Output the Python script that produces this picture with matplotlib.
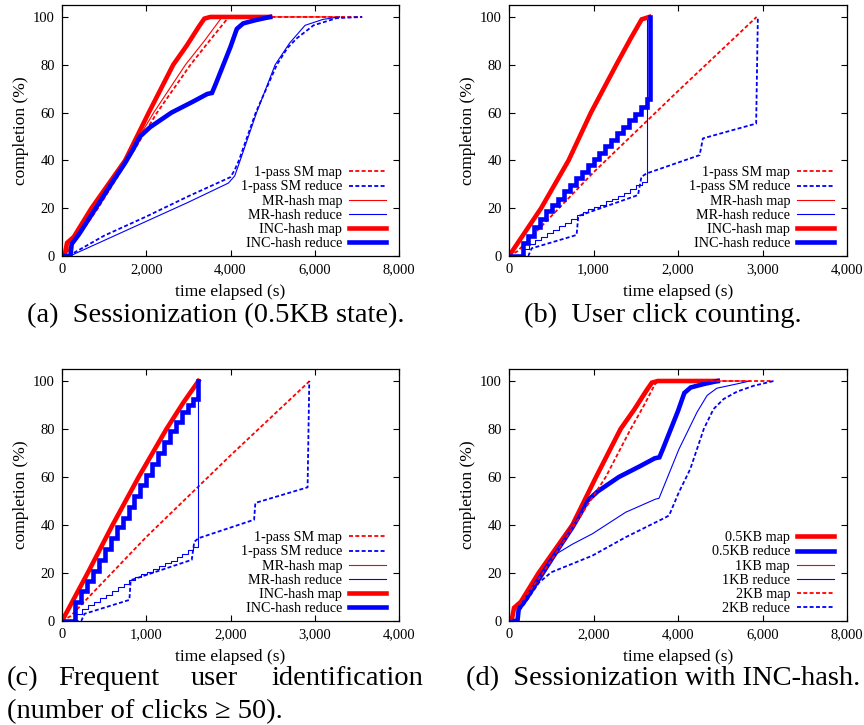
import matplotlib
matplotlib.use("Agg")
import matplotlib.pyplot as plt
from matplotlib.ticker import FuncFormatter

plt.rcParams['font.family'] = ['Liberation Serif', 'DejaVu Serif']

RED = '#ff0000'
BLUE = '#0000ff'

# ---------------- Panel (a): Sessionization (0.5KB state) ----------------
a_sm_map_x = [0, 100, 300, 855, 1560, 2257, 3049, 3500, 3960, 7126]
a_sm_map_y = [0, 1, 6, 20, 40, 60, 80, 90, 100, 100]
a_sm_red_x = [0, 150, 200, 1000, 2000, 3000, 4000, 4100, 4200, 4600, 5100, 5350, 5570, 5970, 6520, 7126]
a_sm_red_y = [0, 0, 0.5, 8.5, 16.5, 25, 33, 36, 40, 60, 80, 87, 91, 96.5, 99.5, 100]
a_mr_map_x = [0, 100, 300, 792, 1500, 2178, 2930, 3380, 3800, 6590]
a_mr_map_y = [0, 2, 7, 20, 40, 60, 80, 90, 100, 100]
a_mr_red_x = [0, 200, 250, 1000, 2000, 3000, 3950, 4100, 4230, 4620, 5060, 5400, 5770, 6200, 6590]
a_mr_red_y = [0, 0, 0.5, 6.5, 14.5, 22.5, 30.5, 33.5, 40, 60, 80, 89, 96.5, 99, 100]
a_inc_map_x = [0, 60, 120, 280, 700, 1500, 2060, 2640, 2960, 3250, 3380, 3520, 4940]
a_inc_map_y = [0, 0, 5.5, 8, 20, 40, 60, 80, 88, 96, 99.3, 100, 100]
a_inc_red_x = [0, 200, 230, 400, 800, 1200, 1500, 1700, 1850, 2100, 2600, 3100, 3450, 3560, 3650, 4000, 4150, 4300, 4600, 4940]
a_inc_red_y = [0, 0, 5, 9, 20, 31, 39, 45, 50, 54, 60, 64.5, 67.8, 68.2, 72, 87.5, 95, 97.3, 98.7, 100]

# ---------------- Panel (b): User click counting ----------------
b_sm_map_x = [0, 100, 1000, 2000, 2930]
b_sm_map_y = [0, 2, 35, 69, 100]
b_sm_red_x = [0, 228, 268, 800, 820, 1527, 1567, 1626, 2256, 2295, 2925, 2945]
b_sm_red_y = [0, 0, 3.2, 8.8, 16.7, 25.5, 33.1, 34.5, 42.2, 49.2, 55.4, 100]
b_mr_map_x = [0, 380, 705, 970, 1270, 1440, 1570, 1660]
b_mr_map_y = [0, 20, 40, 60, 80, 91, 99, 100]
b_mr_red_x = [0, 150, 170, 240, 310, 380, 450, 520, 590, 660, 730, 800, 870, 940, 1010, 1080,
              1150, 1220, 1290, 1360, 1430, 1500, 1570, 1630, 1630]
b_mr_red_y = [0, 0, 3, 5, 6.5, 8, 9.5, 11, 12.5, 14, 15.5, 17, 18.5, 19.5, 20.5, 21.5,
              23, 24, 25, 26.5, 28, 29.5, 31, 33, 100]
b_inc_map_x = [0, 380, 705, 970, 1270, 1440, 1570, 1660]
b_inc_map_y = [0, 20, 40, 60, 80, 91, 99, 100]
b_inc_red_x = [0, 160, 230, 300, 370, 440, 510, 580, 650, 720, 790, 860, 930, 1000, 1070,
               1140, 1210, 1280, 1350, 1420, 1490, 1560, 1630, 1665, 1672]
b_inc_red_y = [0, 5.5, 8.5, 12, 15.5, 19, 21.5, 24, 27, 29.5, 32.5, 35, 38, 40.5, 43,
               46, 48.5, 51.5, 54, 57, 59.5, 62.5, 65.5, 67, 100]

# ---------------- Panel (c): Frequent user identification ----------------
c_sm_map_x = [0, 100, 1000, 2000, 2940]
c_sm_map_y = [0, 2, 35, 69, 100]
c_sm_red_x = [0, 228, 268, 800, 815, 1540, 1570, 1620, 2280, 2295, 2915, 2935]
c_sm_red_y = [0, 0, 3.0, 8.8, 17, 25.5, 33, 34.5, 42.2, 49.2, 55.7, 100]
c_mr_map_x = [0, 305, 600, 910, 1240, 1440, 1620]
c_mr_map_y = [0, 20, 40, 60, 80, 91, 100]
c_mr_red_x = [0, 150, 170, 240, 310, 380, 450, 520, 590, 660, 730, 800, 870, 940, 1010, 1080,
              1150, 1220, 1290, 1360, 1430, 1500, 1560, 1614, 1614]
c_mr_red_y = [0, 0, 3, 5, 6.5, 8, 9.5, 11, 12.5, 14, 15.5, 17, 18.5, 19.5, 20.5, 21.5,
              23, 24, 25, 26.5, 28, 29.5, 31, 33.5, 100]
c_inc_map_x = [0, 305, 600, 910, 1240, 1440, 1620]
c_inc_map_y = [0, 20, 40, 60, 80, 91, 100]
c_inc_red_x = [0, 160, 230, 300, 370, 440, 510, 580, 650, 720, 790, 860, 930, 1000, 1070,
               1140, 1210, 1280, 1350, 1420, 1490, 1560, 1620]
c_inc_red_y = [0, 8, 12.5, 16.5, 21, 25.5, 30, 34.5, 39, 43, 47.5, 52, 56.5, 61, 65.5,
               70, 74.5, 79, 83, 87, 90, 92.5, 100]

# ---------------- Panel (d): Sessionization with INC-hash ----------------
d_05_map_x = [0, 60, 120, 280, 700, 1500, 2060, 2640, 2960, 3250, 3380, 3520, 4940]
d_05_map_y = [0, 0, 5.5, 8, 20, 40, 60, 80, 88, 96, 99.3, 100, 100]
d_05_red_x = [0, 200, 230, 400, 800, 1200, 1500, 1700, 1850, 2100, 2600, 3100, 3450, 3560, 3650, 4000, 4150, 4300, 4600, 4940]
d_05_red_y = [0, 0, 5, 9, 20, 31, 39, 45, 50, 54, 60, 64.5, 67.8, 68.2, 72, 87.5, 95, 97.3, 98.7, 100]
d_1_map_x = [0, 60, 120, 280, 700, 1500, 2080, 2680, 3000, 3300, 3420, 3550, 5630]
d_1_map_y = [0, 0, 5.5, 8, 20, 40, 60, 80, 88, 96, 99.3, 100, 100]
d_1_red_x = [0, 200, 230, 400, 800, 1030, 1500, 1970, 2760, 3470, 3550, 4020, 4450, 4690, 4920, 5400, 5700]
d_1_red_y = [0, 0, 5, 9, 20, 27, 32, 36.3, 45.3, 50.8, 51.1, 71.5, 87, 94, 97, 98.8, 100]
d_2_map_x = [0, 150, 300, 800, 1550, 2290, 2880, 3200, 3450, 3530, 6260]
d_2_map_y = [0, 5, 8, 20, 40, 60, 80, 90, 98.5, 100, 100]
d_2_red_x = [0, 200, 230, 400, 710, 1000, 1970, 2760, 3710, 3790, 4020, 4290, 4610, 4840, 5080, 5400, 5790, 6265]
d_2_red_y = [0, 0, 4, 8, 16, 20.3, 27.2, 34.9, 43.2, 44, 53.6, 63.3, 80, 88.3, 92.5, 95.6, 98, 100]

labels_abc = ['1-pass SM map', '1-pass SM reduce', 'MR-hash map', 'MR-hash reduce',
              'INC-hash map', 'INC-hash reduce']
labels_d = ['0.5KB map', '0.5KB reduce', '1KB map', '1KB reduce', '2KB map', '2KB reduce']

a_xticks = [0, 2000, 4000, 6000, 8000]
b_xticks = [0, 1000, 2000, 3000, 4000]
yticks = [0, 20, 40, 60, 80, 100]

DASH = (0, (2.2, 1.3))
STY_DASH = dict(lw=1.3, linestyle=DASH)
STY_THIN = dict(lw=0.8, linestyle='-')
STY_THICK = dict(lw=3.3, linestyle='-', solid_joinstyle='miter')

W, H = 864, 725
fig = plt.figure(figsize=(W / 100, H / 100), dpi=100)


def add_axes(l, t, r, b):
    return fig.add_axes([l / W, 1 - b / H, (r - l) / W, (b - t) / H])


def style(ax, xticks):
    ax.set_xlim(0, xticks[-1])
    ax.set_ylim(0, 105)
    ax.set_xticks(xticks)
    ax.set_yticks(yticks)
    ax.xaxis.set_major_formatter(FuncFormatter(lambda v, p: f"{int(v):,}"))
    ax.tick_params(direction='in', top=True, right=True, length=4, width=0.8,
                   labelsize=10.5, pad=5)
    for s in ax.spines.values():
        s.set_linewidth(0.9)
    ax.set_xlabel('time elapsed (s)', fontsize=12.5, labelpad=5.5)
    ax.set_ylabel('completion (%)', fontsize=12.5, labelpad=3)
    bw = ax.get_position().width * W
    bh = ax.get_position().height * H
    leg = ax.legend(loc='lower right', frameon=False, markerfirst=False, fontsize=10.2,
                    handlelength=2.6, handletextpad=0.5, labelspacing=0.08,
                    borderaxespad=0, borderpad=0,
                    bbox_to_anchor=(1 - 13 / bw, 6 / bh))
    return leg


def draw(ax, series, labels, xticks, steps=()):
    styles = [dict(color=RED, **STY_DASH), dict(color=BLUE, **STY_DASH),
              dict(color=RED, **STY_THIN), dict(color=BLUE, **STY_THIN),
              dict(color=RED, **STY_THICK), dict(color=BLUE, **STY_THICK)]
    for i, ((x, y), lab) in enumerate(zip(series, labels)):
        kw = dict(styles[i])
        if i in steps:
            kw['drawstyle'] = 'steps-post'
        ax.plot(x, y, label=lab, **kw)
    style(ax, xticks)


def draw_d(ax, series, labels, xticks):
    styles = [dict(color=RED, **STY_THICK), dict(color=BLUE, **STY_THICK),
              dict(color=RED, **STY_THIN), dict(color=BLUE, **STY_THIN),
              dict(color=RED, **STY_DASH), dict(color=BLUE, **STY_DASH)]
    for (x, y), lab, st in zip(series, labels, styles):
        ax.plot(x, y, label=lab, **st)
    style(ax, xticks)


ax_a = add_axes(62, 5, 399, 256)
draw(ax_a, [(a_sm_map_x, a_sm_map_y), (a_sm_red_x, a_sm_red_y), (a_mr_map_x, a_mr_map_y),
            (a_mr_red_x, a_mr_red_y), (a_inc_map_x, a_inc_map_y), (a_inc_red_x, a_inc_red_y)],
     labels_abc, a_xticks)

ax_b = add_axes(509, 5, 847, 256)
draw(ax_b, [(b_sm_map_x, b_sm_map_y), (b_sm_red_x, b_sm_red_y), (b_mr_map_x, b_mr_map_y),
            (b_mr_red_x, b_mr_red_y), (b_inc_map_x, b_inc_map_y), (b_inc_red_x, b_inc_red_y)],
     labels_abc, b_xticks, steps=(3, 5))

ax_c = add_axes(62, 369, 399, 621)
draw(ax_c, [(c_sm_map_x, c_sm_map_y), (c_sm_red_x, c_sm_red_y), (c_mr_map_x, c_mr_map_y),
            (c_mr_red_x, c_mr_red_y), (c_inc_map_x, c_inc_map_y), (c_inc_red_x, c_inc_red_y)],
     labels_abc, b_xticks, steps=(3, 5))

ax_d = add_axes(509, 369, 847, 621)
draw_d(ax_d, [(d_05_map_x, d_05_map_y), (d_05_red_x, d_05_red_y), (d_1_map_x, d_1_map_y),
              (d_1_red_x, d_1_red_y), (d_2_map_x, d_2_map_y), (d_2_red_x, d_2_red_y)],
       labels_d, a_xticks)

CAP = 20.5


def ftext(x, y, s, **kw):
    fig.text(x / W, 1 - y / H, s, fontsize=CAP, va='baseline', **kw)


ftext(216, 322, '(a)  Sessionization (0.5KB state).', ha='center')
ftext(663, 322, '(b)  User click counting.', ha='center')
ftext(7, 685, '(c)', ha='left')
ftext(58, 685, 'Frequent', ha='left')
ftext(191, 685, 'user', ha='left')
ftext(423, 685, 'identification', ha='right')
ftext(7, 718, '(number of clicks \u2265 50).', ha='left')
ftext(663, 685, '(d)  Sessionization with INC-hash.', ha='center')

fig.savefig('out.png', dpi=100)
